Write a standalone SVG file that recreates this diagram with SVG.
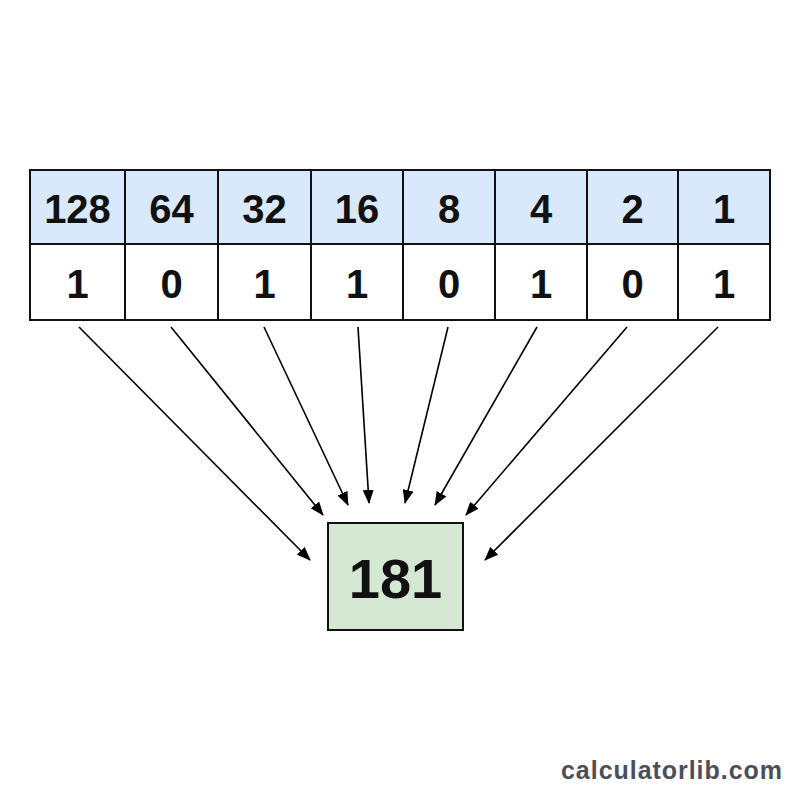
<svg xmlns="http://www.w3.org/2000/svg" width="800" height="800" viewBox="0 0 800 800">
<defs>
<marker id="ah" markerWidth="14" markerHeight="11" refX="13" refY="5.5" orient="auto" markerUnits="userSpaceOnUse">
<path d="M0,0 L14,5.5 L0,11 Z" fill="#000"/>
</marker>
<style>
.hd{fill:#dae8fc;stroke:#111;stroke-width:2}
.bt{fill:#fff;stroke:#111;stroke-width:2}
.t{font-family:"Liberation Sans",Arial,sans-serif;font-weight:bold;font-size:40px;fill:#111;text-anchor:middle}
.c{stroke:#000;stroke-width:1.6;fill:none;marker-end:url(#ah)}
</style>
</defs>
<rect width="800" height="800" fill="#fff"/>
<g id="weights">
<g id="w128"><rect class="hd" x="30" y="170" width="95" height="74"/><text class="t" x="77.5" y="223">128</text></g>
<g id="w64"><rect class="hd" x="125" y="170" width="93" height="74"/><text class="t" x="171.5" y="223">64</text></g>
<g id="w32"><rect class="hd" x="218" y="170" width="93" height="74"/><text class="t" x="264.5" y="223">32</text></g>
<g id="w16"><rect class="hd" x="311" y="170" width="92" height="74"/><text class="t" x="357" y="223">16</text></g>
<g id="w8"><rect class="hd" x="403" y="170" width="92" height="74"/><text class="t" x="449" y="223">8</text></g>
<g id="w4"><rect class="hd" x="495" y="170" width="92" height="74"/><text class="t" x="541" y="223">4</text></g>
<g id="w2"><rect class="hd" x="587" y="170" width="91" height="74"/><text class="t" x="632.5" y="223">2</text></g>
<g id="w1"><rect class="hd" x="678" y="170" width="92" height="74"/><text class="t" x="724" y="223">1</text></g>
</g>
<g id="bits">
<g id="b7"><rect class="bt" x="30" y="244" width="95" height="76"/><text class="t" x="77.5" y="298">1</text></g>
<g id="b6"><rect class="bt" x="125" y="244" width="93" height="76"/><text class="t" x="171.5" y="298">0</text></g>
<g id="b5"><rect class="bt" x="218" y="244" width="93" height="76"/><text class="t" x="264.5" y="298">1</text></g>
<g id="b4"><rect class="bt" x="311" y="244" width="92" height="76"/><text class="t" x="357" y="298">1</text></g>
<g id="b3"><rect class="bt" x="403" y="244" width="92" height="76"/><text class="t" x="449" y="298">0</text></g>
<g id="b2"><rect class="bt" x="495" y="244" width="92" height="76"/><text class="t" x="541" y="298">1</text></g>
<g id="b1"><rect class="bt" x="587" y="244" width="91" height="76"/><text class="t" x="632.5" y="298">0</text></g>
<g id="b0"><rect class="bt" x="678" y="244" width="92" height="76"/><text class="t" x="724" y="298">1</text></g>
</g>
<g id="result">
<rect x="328" y="523" width="135" height="107" fill="#d5e8d4" stroke="#111" stroke-width="2"/>
<text class="t" x="395.5" y="598" style="font-size:56px">181</text>
</g>
<g id="connectors">
<line class="c" x1="79" y1="327" x2="310" y2="560"/>
<line class="c" x1="171" y1="327" x2="323" y2="515"/>
<line class="c" x1="264" y1="327" x2="348" y2="505"/>
<line class="c" x1="358" y1="327" x2="369" y2="503"/>
<line class="c" x1="448" y1="327" x2="405" y2="503"/>
<line class="c" x1="537" y1="327" x2="435" y2="505"/>
<line class="c" x1="627" y1="327" x2="466" y2="515"/>
<line class="c" x1="718" y1="327" x2="485" y2="560"/>
</g>
<text x="782" y="779" text-anchor="end" textLength="221" font-family="Liberation Sans,Arial,sans-serif" font-weight="bold" font-size="25" fill="#4a4f5a">calculatorlib.com</text>
</svg>
